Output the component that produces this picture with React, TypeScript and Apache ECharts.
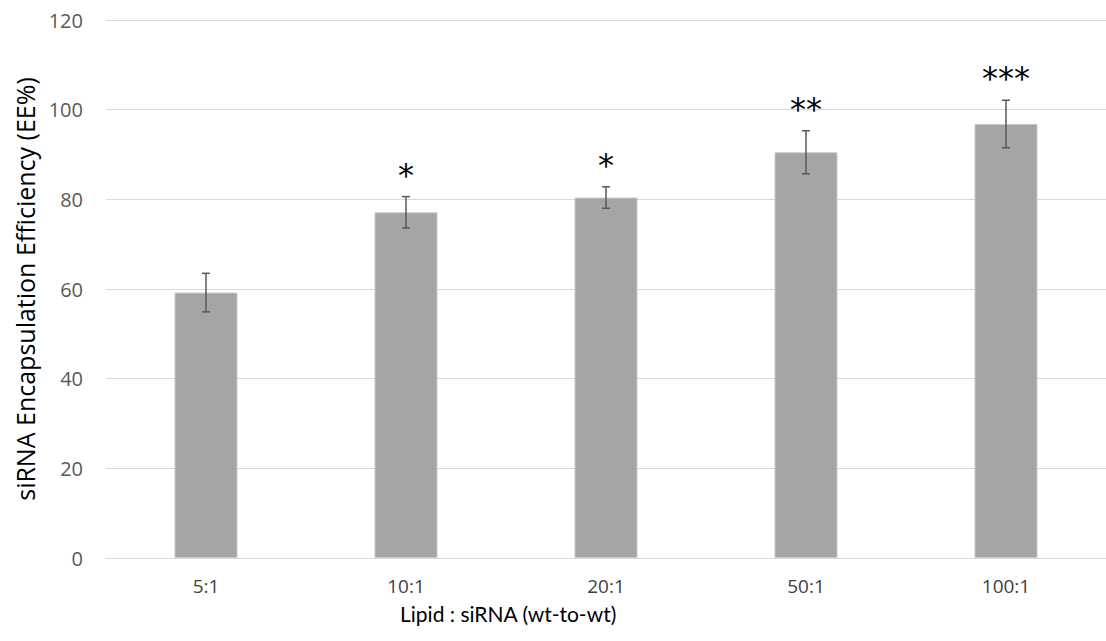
import React, { useEffect, useRef } from "react";
import * as echarts from "echarts";

const categories = ["5:1", "10:1", "20:1", "50:1", "100:1"];
const efficiency = [59.2, 77.1, 80.4, 90.5, 96.8];
const errors = [4.3, 3.5, 2.4, 4.8, 5.3];
const significance = ["", "*", "*", "**", "***"];
const yTicks = { min: 0, max: 120, interval: 20 };

export default function App() {
  const ref = useRef<HTMLDivElement>(null);
  useEffect(() => {
    if (!ref.current) return;
    const chart = echarts.init(ref.current, undefined, { renderer: "svg" });
    const errData = categories.map((_, i) => [i, efficiency[i], errors[i]]);
    chart.setOption({
      animation: false,
      grid: { left: 106, right: -10, top: 20, bottom: 83, containLabel: false },
      xAxis: {
        type: "category",
        data: categories,
        axisLine: { show: true, lineStyle: { color: "#d9d9d9", width: 1 } },
        axisTick: { show: false },
        axisLabel: { color: "#404040", fontSize: 19, fontFamily: "Open Sans", margin: 18 },
      },
      yAxis: {
        type: "value",
        min: yTicks.min,
        max: yTicks.max,
        interval: yTicks.interval,
        name: "siRNA Encapsulation Efficiency (EE%)",
        nameLocation: "middle",
        nameGap: 66,
        nameTextStyle: { color: "#000", fontSize: 25, fontFamily: "Open Sans" },
        axisLine: { show: false },
        axisTick: { show: false },
        axisLabel: { color: "#595959", fontSize: 20, fontFamily: "Open Sans", margin: 23 },
        splitLine: { lineStyle: { color: "#d9d9d9", width: 1 } },
      },
      graphic: [
        {
          type: "text",
          left: 400,
          top: 603,
          style: {
            text: "Lipid : siRNA (wt-to-wt)",
            fill: "#000",
            fontSize: 21,
            fontFamily: "Lato",
          },
        },
      ],
      series: [
        {
          type: "bar",
          data: efficiency,
          barWidth: 63,
          itemStyle: { color: "#a5a5a5", borderColor: "#c8c8c8", borderWidth: 1 },
          z: 2,
        },
        {
          type: "custom",
          data: errData,
          encode: { x: 0, y: 1 },
          z: 3,
          renderItem: (params: any, api: any) => {
            const i = api.value(0);
            const v = api.value(1);
            const e = api.value(2);
            const top = api.coord([i, v + e]);
            const bot = api.coord([i, v - e]);
            const cap = 4;
            const ls = { stroke: "#595959", lineWidth: 1.5 };
            const children: any[] = [
              { type: "line", shape: { x1: top[0], y1: top[1], x2: bot[0], y2: bot[1] }, style: ls },
              { type: "line", shape: { x1: top[0] - cap, y1: top[1], x2: top[0] + cap, y2: top[1] }, style: ls },
              { type: "line", shape: { x1: bot[0] - cap, y1: bot[1], x2: bot[0] + cap, y2: bot[1] }, style: ls },
            ];
            const s = significance[params.dataIndex];
            if (s) {
              children.push({
                type: "text",
                x: top[0],
                y: top[1] - 22,
                style: {
                  text: s,
                  fill: "#000",
                  fontSize: 32,
                  fontFamily: "DejaVu Sans",
                  align: "center",
                  verticalAlign: "middle",
                },
              });
            }
            return { type: "group", children };
          },
        },
      ],
    });
    return () => chart.dispose();
  }, []);
  return (
    <div
      ref={ref}
      style={{ position: "fixed", left: 0, top: 0, width: 1106, height: 641, background: "#fff" }}
    />
  );
}
